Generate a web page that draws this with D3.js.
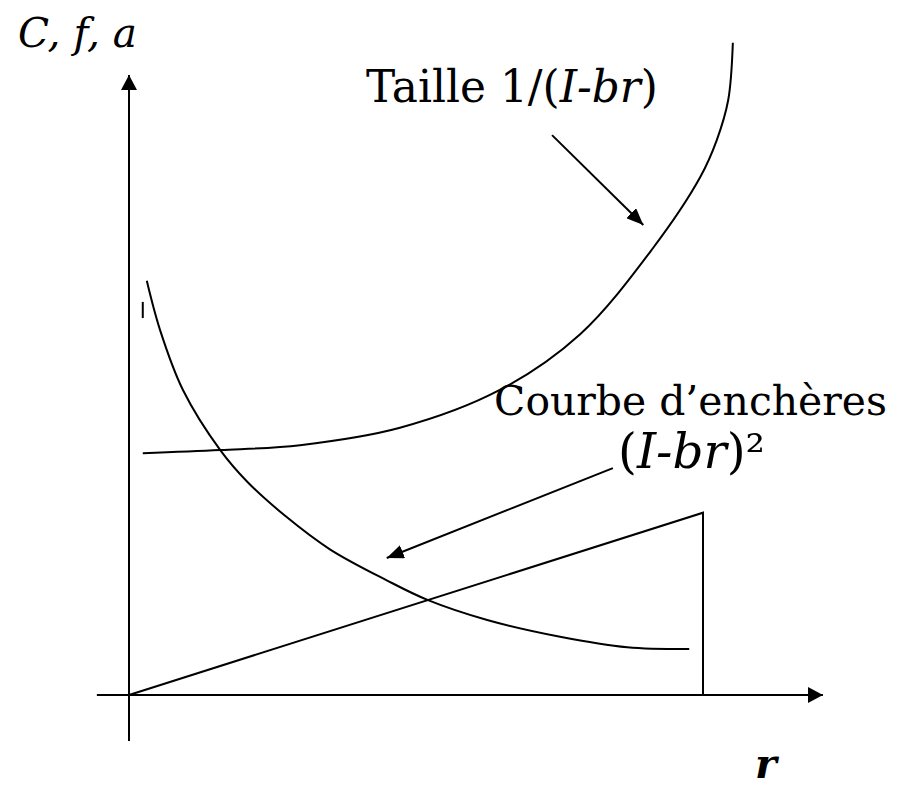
<!DOCTYPE html>
<html>
<head>
<meta charset="utf-8">
<script src="https://cdn.jsdelivr.net/npm/d3@7"></script>
<style>
  html, body { margin: 0; padding: 0; background: #fff; }
  svg { display: block; }
  text { font-family: "DejaVu Serif", Georgia, serif; fill: #000; }
</style>
</head>
<body>
<div id="chart"></div>
<script>
// values (r on the horizontal axis, r = 1 at the vertical line)
var tailleR = [0.024, 0.159, 0.298, 0.472, 0.646, 0.786, 0.913, 0.995, 1.024, 1.044, 1.052];
var tailleV = [0.390, 0.395, 0.403, 0.431, 0.492, 0.582, 0.721, 0.835, 0.895, 0.960, 1.052];

var enchR = [0.031, 0.054, 0.094, 0.159, 0.206, 0.272, 0.350, 0.449, 0.521, 0.624, 0.751, 0.868, 0.976];
var enchV = [0.668, 0.589, 0.492, 0.395, 0.344, 0.289, 0.235, 0.185, 0.153, 0.121, 0.094, 0.077, 0.074];

var lineR = [0, 1, 1];
var lineV = [0, 0.294, 0];

var tickR = [0.024, 0.024];
var tickV = [0.608, 0.634];

// axis extents and annotation arrows, in data units
var axisR = [-0.056, 1.209];
var axisV = [-0.074, 1.0];
var arrowTaille = {r: [0.737, 0.896], v: [0.903, 0.758]};
var arrowEnch = {r: [0.843, 0.449], v: [0.366, 0.221]};

var width = 898, height = 790;

var svg = d3.select("#chart").append("svg")
  .attr("width", width)
  .attr("height", height);

var x = d3.scaleLinear().domain([0, 1]).range([129, 703]);
var y = d3.scaleLinear().domain([0, 1]).range([695, 75]);

// arrowheads
var defs = svg.append("defs");
function addMarker(id, len, half) {
  defs.append("marker")
    .attr("id", id)
    .attr("markerUnits", "userSpaceOnUse")
    .attr("viewBox", "0 " + (-half) + " " + len + " " + (2 * half))
    .attr("refX", len)
    .attr("refY", 0)
    .attr("markerWidth", len)
    .attr("markerHeight", 2 * half)
    .attr("orient", "auto")
    .append("path")
    .attr("d", "M0," + (-half) + "L" + len + ",0L0," + half + "Z")
    .attr("fill", "#000");
}
addMarker("axisHead", 15, 8);
addMarker("noteHead", 17, 7);

function toPoints(rs, vs) {
  return rs.map(function (r, i) { return [x(r), y(vs[i])]; });
}

var smooth = d3.line().curve(d3.curveCatmullRom.alpha(0.5));
var straight = d3.line();

// axes
svg.append("line")
  .attr("x1", x(0)).attr("y1", y(axisV[0]))
  .attr("x2", x(0)).attr("y2", y(axisV[1]))
  .attr("stroke", "#000").attr("stroke-width", 2)
  .attr("marker-end", "url(#axisHead)");

svg.append("line")
  .attr("x1", x(axisR[0])).attr("y1", y(0))
  .attr("x2", x(axisR[1])).attr("y2", y(0))
  .attr("stroke", "#000").attr("stroke-width", 2)
  .attr("marker-end", "url(#axisHead)");

// curves
svg.append("path")
  .attr("d", smooth(toPoints(tailleR, tailleV)))
  .attr("fill", "none").attr("stroke", "#000").attr("stroke-width", 2);

svg.append("path")
  .attr("d", smooth(toPoints(enchR, enchV)))
  .attr("fill", "none").attr("stroke", "#000").attr("stroke-width", 2);

svg.append("path")
  .attr("d", straight(toPoints(lineR, lineV)))
  .attr("fill", "none").attr("stroke", "#000").attr("stroke-width", 2);

svg.append("path")
  .attr("d", straight(toPoints(tickR, tickV)))
  .attr("fill", "none").attr("stroke", "#000").attr("stroke-width", 2);

// annotation arrows
[arrowTaille, arrowEnch].forEach(function (a) {
  svg.append("line")
    .attr("x1", x(a.r[0])).attr("y1", y(a.v[0]))
    .attr("x2", x(a.r[1])).attr("y2", y(a.v[1]))
    .attr("stroke", "#000").attr("stroke-width", 2)
    .attr("marker-end", "url(#noteHead)");
});

// labels: font size is scaled so the text spans the same width as in the picture
function fitText(t, targetWidth) {
  var w = t.node().getComputedTextLength();
  var fs = parseFloat(t.attr("font-size"));
  t.attr("font-size", fs * targetWidth / w);
  return t;
}

var yLabel = svg.append("text")
  .attr("x", 18).attr("y", 47)
  .attr("font-size", 40)
  .attr("font-style", "italic")
  .text("C, f, a");
fitText(yLabel, 119);

var taille = svg.append("text")
  .attr("x", 366).attr("y", 102)
  .attr("font-size", 40);
taille.append("tspan").text("Taille 1/(");
taille.append("tspan").attr("font-style", "italic").text("I-br");
taille.append("tspan").text(")");
fitText(taille, 292);

var courbe = svg.append("text")
  .attr("x", 887).attr("y", 415)
  .attr("font-size", 40)
  .attr("text-anchor", "end")
  .text("Courbe d\u2019ench\u00e8res");
fitText(courbe, 393);

var carre = svg.append("text")
  .attr("x", 618).attr("y", 468)
  .attr("font-size", 40);
carre.append("tspan").text("(");
carre.append("tspan").attr("font-style", "italic").text("I-br");
carre.append("tspan").text(")\u00b2");
fitText(carre, 147);

svg.append("text")
  .attr("x", 755).attr("y", 778)
  .attr("font-size", 41)
  .attr("font-style", "italic")
  .attr("font-weight", "bold")
  .text("r");
</script>
</body>
</html>
